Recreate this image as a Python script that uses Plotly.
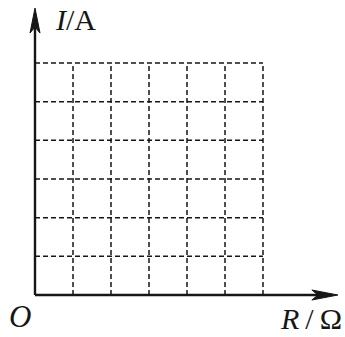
import plotly.graph_objects as go

# Grid divisions (blank I-R graph paper, 6 x 6 cells)
x_grid = [1, 2, 3, 4, 5, 6]
y_grid = [1, 2, 3, 4, 5, 6]
x_axis_end = 7.97   # arrow tip of R axis (grid units)
y_axis_end = 7.42   # arrow tip of I axis (grid units)
x_label = "<i>R</i>\u2009/\u2009Ω"
y_label = "<i>I</i>/A"
origin_label = "<i>O</i>"

W, H = 345, 337
ox, oy = 35, 295          # pixel position of the origin
px_x = 38.0
px_y = 38.67
x_range = [-ox / px_x, (W - ox) / px_x]
y_range = [-(H - oy) / px_y, oy / px_y]

ink = "#161616"
dash = "5px,3px"
serif = "Liberation Serif, Times New Roman, serif"

fig = go.Figure()

# vertical dashed grid lines
for xv in x_grid:
    fig.add_trace(go.Scatter(x=[xv, xv], y=[0, max(y_grid)], mode="lines",
                             line=dict(color=ink, width=1.5, dash=dash),
                             hoverinfo="skip", showlegend=False))
# horizontal dashed grid lines
for yv in y_grid:
    fig.add_trace(go.Scatter(x=[0, max(x_grid)], y=[yv, yv], mode="lines",
                             line=dict(color=ink, width=1.5, dash=dash),
                             hoverinfo="skip", showlegend=False))

# axes
fig.add_trace(go.Scatter(x=[0, x_axis_end - 0.5], y=[0, 0], mode="lines",
                         line=dict(color=ink, width=2.4), hoverinfo="skip", showlegend=False))
fig.add_trace(go.Scatter(x=[0, 0], y=[0, y_axis_end - 0.5], mode="lines",
                         line=dict(color=ink, width=2.4), hoverinfo="skip", showlegend=False))

shapes = [
    # arrowhead on R axis (pixel-sized, anchored at tip)
    dict(type="path", xref="x", yref="y", xsizemode="pixel", ysizemode="pixel",
         xanchor=x_axis_end, yanchor=0,
         path="M0,0 L-26,5 L-20,0 L-26,-5 Z",
         fillcolor=ink, line=dict(color=ink, width=1)),
    # arrowhead on I axis
    dict(type="path", xref="x", yref="y", xsizemode="pixel", ysizemode="pixel",
         xanchor=0, yanchor=y_axis_end,
         path="M0,0 L5,-25 L0,-19 L-5,-25 Z",
         fillcolor=ink, line=dict(color=ink, width=1)),
]

annotations = [
    dict(x=0, y=y_axis_end, xref="x", yref="y", text=y_label, showarrow=False,
         xanchor="left", yanchor="middle", xshift=18, yshift=-11,
         font=dict(family=serif, size=30, color=ink)),
    dict(x=0, y=0, xref="x", yref="y", text=origin_label, showarrow=False,
         xanchor="center", yanchor="middle", xshift=-15, yshift=-21,
         font=dict(family=serif, size=31, color=ink)),
    dict(x=x_axis_end, y=0, xref="x", yref="y", text=x_label, showarrow=False,
         xanchor="right", yanchor="middle", xshift=6, yshift=-23,
         font=dict(family=serif, size=30, color=ink)),
]

fig.update_layout(
    width=W, height=H, autosize=False,
    margin=dict(l=0, r=0, t=0, b=0),
    paper_bgcolor="white", plot_bgcolor="white",
    xaxis=dict(range=x_range, visible=False, fixedrange=True),
    yaxis=dict(range=y_range, visible=False, fixedrange=True),
    shapes=shapes, annotations=annotations, showlegend=False,
)

fig.write_html("out.html")
